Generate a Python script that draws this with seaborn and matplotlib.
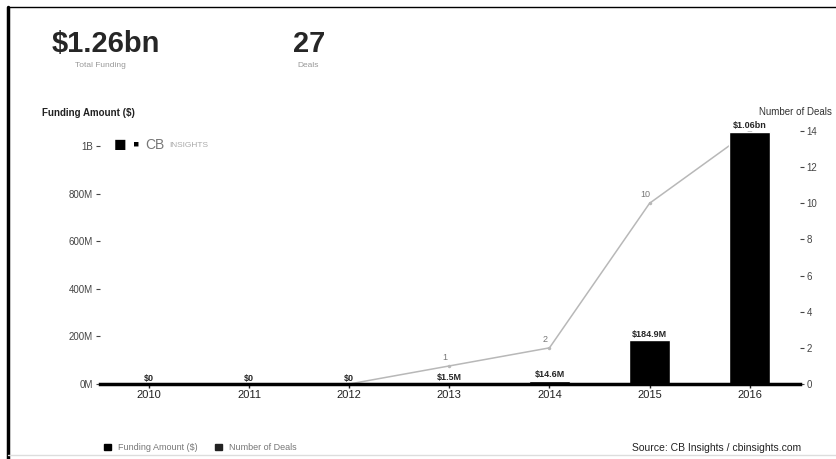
import numpy as np
import pandas as pd
import matplotlib
matplotlib.use("Agg")
import matplotlib.pyplot as plt
from matplotlib.patches import Patch
from matplotlib.lines import Line2D
import seaborn as sns

years = ["2010", "2011", "2012", "2013", "2014", "2015", "2016"]
funding = [0, 0, 0, 1.5e6, 14.6e6, 184.9e6, 1.06e9]
funding_labels = ["$0", "$0", "$0", "$1.5M", "$14.6M", "$184.9M", "$1.06bn"]
deal_years = ["2012", "2013", "2014", "2015", "2016"]
deals = [0, 1, 2, 10, 14]
deal_labels = ["", "1", "2", "10", ""]
left_ticks = [0, 200e6, 400e6, 600e6, 800e6, 1e9]
left_tick_labels = ["0M", "200M", "400M", "600M", "800M", "1B"]
right_ticks = [0, 2, 4, 6, 8, 10, 12, 14]

sns.set_style("white")
plt.rcParams["font.family"] = ["Liberation Sans", "DejaVu Sans"]

df = pd.DataFrame({"Year": years, "Funding": funding})
df_deals = pd.DataFrame({"Year": deal_years, "Deals": deals})
df_deals["pos"] = [years.index(y) for y in deal_years]

fig = plt.figure(figsize=(8.36, 4.59), dpi=100)
ax = fig.add_axes([0.1196, 0.1634, 0.837, 0.5512])

sns.barplot(data=df, x="Year", y="Funding", order=years, color="black",
            width=0.41, saturation=1, ax=ax)
ax.bar_label(ax.containers[0], labels=funding_labels, fontsize=6.5,
             fontweight="bold", padding=1)

ax.set_xlim(-0.49, 6.5)
ax.set_ylim(0, 1.063e9)
ax.set_yticks(left_ticks)
ax.set_yticklabels(left_tick_labels)
ax.set_xlabel("")
ax.set_ylabel("")
ax.tick_params(axis="x", labelsize=8, colors="#222222", length=3, width=1,
               direction="out", pad=1, bottom=True)
ax.tick_params(axis="y", labelsize=7, colors="#444444", length=3, width=0.8,
               left=True, pad=2)
for s in ["top", "right", "left"]:
    ax.spines[s].set_visible(False)
ax.spines["bottom"].set_linewidth(2.5)
ax.spines["bottom"].set_color("black")

ax2 = ax.twinx()
sns.lineplot(data=df_deals, x="pos", y="Deals", color="#b8b8b8", lw=1.1,
             marker="o", markersize=2.5, markeredgewidth=0, ax=ax2, zorder=1)
for p, v, t in zip(df_deals["pos"], df_deals["Deals"], deal_labels):
    ax2.annotate(t, (p, v), xytext=(-3, 3), textcoords="offset points",
                 ha="center", va="bottom", fontsize=6.5, color="#777777")
ax2.set_ylim(0, 14)
ax2.set_yticks(right_ticks)
ax2.tick_params(axis="y", labelsize=7, colors="#444444", length=3, width=0.8,
                right=True, pad=2)
ax2.set_xlabel("")
ax2.set_ylabel("")
for s in ax2.spines.values():
    s.set_visible(False)
ax.set_zorder(ax2.get_zorder() + 1)
ax.patch.set_visible(False)

# headline numbers
fig.text(0.062, 0.905, "$1.26bn", fontsize=21, fontweight="bold", va="center")
fig.text(0.090, 0.858, "Total Funding", fontsize=6, color="#999999", va="center")
fig.text(0.350, 0.905, "27", fontsize=21, fontweight="bold", va="center")
fig.text(0.356, 0.858, "Deals", fontsize=6, color="#999999", va="center")

fig.text(0.050, 0.754, "Funding Amount ($)", fontsize=7, fontweight="bold",
         color="#222222", va="center")
fig.text(0.995, 0.756, "Number of Deals", fontsize=7, color="#333333",
         ha="right", va="center")

# logo
fig.text(0.136, 0.684, "■", fontsize=15, va="center", color="black")
fig.text(0.159, 0.684, "▪", fontsize=13, va="center", color="black")
fig.text(0.174, 0.684, "CB", fontsize=10, va="center", color="#777777")
fig.text(0.203, 0.684, "INSIGHTS", fontsize=6, va="center", color="#aaaaaa")

handles = [Patch(facecolor="black", edgecolor="black"),
           Patch(facecolor="#222222", edgecolor="#222222")]
fig.legend(handles, ["Funding Amount ($)", "Number of Deals"], loc="center left",
           bbox_to_anchor=(0.115, 0.025), ncol=2, frameon=False, fontsize=6.5,
           handlelength=0.7, handleheight=0.7, columnspacing=2.0,
           labelcolor="#777777")
fig.text(0.958, 0.025, "Source: CB Insights / cbinsights.com", fontsize=7.5,
         color="#222222", ha="right", va="center")

# scan frame
fig.add_artist(Line2D([0.010, 0.010], [0.0, 0.985], transform=fig.transFigure,
                      color="black", lw=2.5))
fig.add_artist(Line2D([0.010, 1.0], [0.985, 0.985], transform=fig.transFigure,
                      color="black", lw=1))
fig.add_artist(Line2D([0.010, 1.0], [0.008, 0.008], transform=fig.transFigure,
                      color="#dddddd", lw=1))

fig.savefig("out.png", dpi=100)
